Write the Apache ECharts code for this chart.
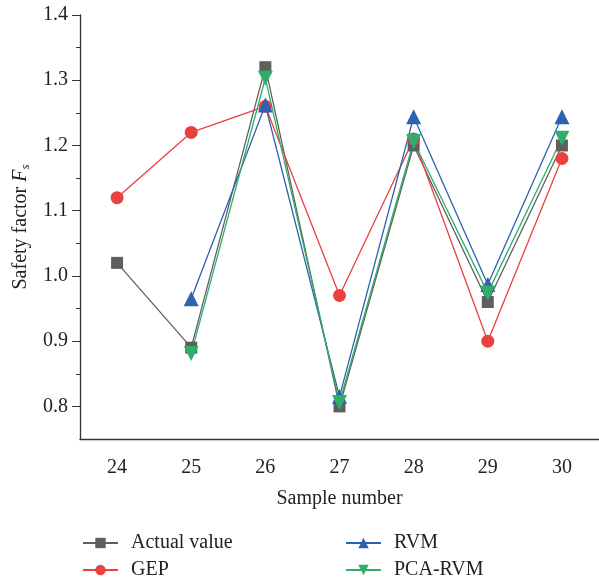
<!DOCTYPE html>
<html>
<head>
<meta charset="utf-8">
<script src="https://cdn.jsdelivr.net/npm/echarts@6/dist/echarts.min.js"></script>
<style>
  html, body { margin: 0; padding: 0; background: #fff; }
  #chart { width: 599px; height: 582px; }
</style>
</head>
<body>
<div id="chart"></div>
<script>
// sample numbers on the x axis
var samples = ['24', '25', '26', '27', '28', '29', '30'];
// safety factor values
var actualValue = [1.02, 0.89, 1.32, 0.80, 1.20, 0.96, 1.20];
var gepValue = [1.12, 1.22, 1.26, 0.97, 1.21, 0.90, 1.18];
var rvmValue = [null, 0.965, 1.262, 0.815, 1.244, 0.987, 1.244];
var pcaRvmValue = [null, 0.881, 1.303, 0.806, 1.206, 0.974, 1.211];
// y tick labels
var yTicks = [0.8, 0.9, 1.0, 1.1, 1.2, 1.3, 1.4];
var yMinorTicks = [0.85, 0.95, 1.05, 1.15, 1.25, 1.35];

var serif = '"Liberation Serif", "DejaVu Serif", serif';
var axisColor = '#333';
var textColor = '#222';

var chart = echarts.init(document.getElementById('chart'));

function mkSeries(name, data, symbol, size, color) {
  return {
    name: name,
    type: 'line',
    data: data,
    symbol: symbol,
    symbolSize: size,
    connectNulls: false,
    lineStyle: { color: color, width: 1.3 },
    itemStyle: { color: color },
    emphasis: { disabled: true }
  };
}

// one legend per entry so the 2x2 layout is fixed
function mkLegend(name, left, top) {
  return {
    data: [name],
    left: left,
    top: top,
    padding: 0,
    itemWidth: 35,
    itemHeight: 13,
    selectedMode: false,
    textStyle: { fontFamily: serif, fontSize: 20, color: textColor, padding: [0, 0, 0, 8] }
  };
}

chart.setOption({
  animation: false,
  grid: { left: 80, top: 15, right: 0, bottom: 143, outerBoundsMode: 'none' },
  legend: [
    mkLegend('Actual value', 82, 533),
    mkLegend('GEP', 82, 560),
    mkLegend('RVM', 345, 533),
    mkLegend('PCA-RVM', 345, 560)
  ],
  xAxis: [
    {
      type: 'category',
      data: samples,
      boundaryGap: true,
      name: 'Sample number',
      nameLocation: 'middle',
      nameGap: 50,
      nameTextStyle: { fontFamily: serif, fontSize: 20, color: textColor },
      axisLine: { lineStyle: { color: axisColor, width: 1.3 } },
      axisTick: { alignWithLabel: true, length: 7, lineStyle: { color: axisColor } },
      axisLabel: { fontFamily: serif, fontSize: 20, color: textColor, margin: 19 },
      splitLine: { show: false }
    },
    {
      type: 'category',
      data: samples,
      boundaryGap: true,
      position: 'bottom',
      axisLine: { show: false },
      axisTick: { alignWithLabel: false, length: 4, lineStyle: { color: axisColor } },
      axisLabel: { show: false },
      splitLine: { show: false }
    }
  ],
  yAxis: [
    {
      type: 'value',
      min: 0.75,
      max: 1.4,
      name: '{n|Safety factor }{f|F}{s|s}',
      nameLocation: 'middle',
      nameGap: 48,
      nameRotate: 90,
      nameTextStyle: {
        rich: {
          n: { fontFamily: serif, fontSize: 20, color: textColor },
          f: { fontFamily: serif, fontSize: 20, color: textColor, fontStyle: 'italic' },
          s: { fontFamily: serif, fontSize: 13, color: textColor, fontStyle: 'italic', verticalAlign: 'bottom', padding: [9, 0, 0, 0] }
        }
      },
      axisLine: { show: true, lineStyle: { color: axisColor, width: 1.3 } },
      axisTick: { show: true, length: 8, customValues: yTicks, lineStyle: { color: axisColor } },
      axisLabel: {
        fontFamily: serif, fontSize: 20, color: textColor, margin: 12,
        customValues: yTicks,
        formatter: function (v) { return v.toFixed(1); }
      },
      splitLine: { show: false }
    },
    {
      type: 'value',
      min: 0.75,
      max: 1.4,
      position: 'left',
      axisLine: { show: false },
      axisTick: { show: true, length: 4, customValues: yMinorTicks, lineStyle: { color: axisColor } },
      axisLabel: { show: false, customValues: yMinorTicks },
      splitLine: { show: false }
    }
  ],
  series: [
    mkSeries('Actual value', actualValue, 'rect', 12, '#5f5f5f'),
    mkSeries('GEP', gepValue, 'circle', 13, '#e8413f'),
    mkSeries('RVM', rvmValue, 'triangle', 15, '#2f61b0'),
    mkSeries('PCA-RVM', pcaRvmValue, 'path://M0,0 L10,0 L5,9 Z', 15, '#2fae6a')
  ]
});
</script>
</body>
</html>
